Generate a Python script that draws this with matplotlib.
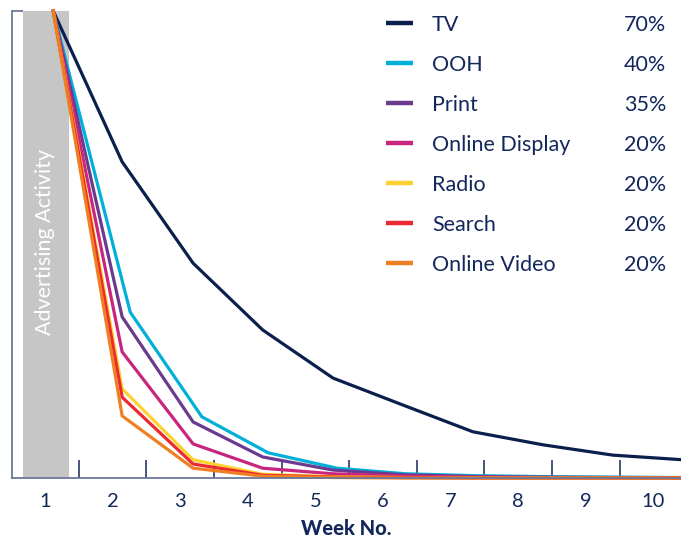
import matplotlib
matplotlib.use("Agg")
import matplotlib.pyplot as plt
from matplotlib.lines import Line2D

plt.rcParams['font.family'] = ['Lato', 'DejaVu Sans']

# Media channels, carry-over rate per week, and line colours
channels = ["TV", "OOH", "Print", "Online Display", "Radio", "Search", "Online Video"]
carryover = ["70%", "40%", "35%", "20%", "20%", "20%", "20%"]
colors = ["#0b1f4d", "#00b0d9", "#6b3a8f", "#c8267e", "#fdd230", "#ec2830", "#ef7f23"]

# Week labels on the x axis
week_labels = ["1", "2", "3", "4", "5", "6", "7", "8", "9", "10"]

# x positions (in weeks) of each curve's points
x_common = [1.12, 2.14, 3.19, 4.22, 5.26, 6.30, 7.33, 8.37, 9.40, 10.44]
x_ooh = [1.12, 2.26, 3.32, 4.30, 5.32, 6.34, 7.37, 8.40, 9.42, 10.44]

# Remaining effect (% of initial) per week
tv = [100, 67.7, 46.0, 31.7, 21.4, 15.6, 9.9, 7.1, 4.9, 3.9]
ooh = [100, 35.5, 13.1, 5.4, 2.1, 0.9, 0.5, 0.3, 0.2, 0.1]
print_ = [100, 34.5, 12.0, 4.5, 1.7, 0.7, 0.3, 0.15, 0.1, 0.05]
online_display = [100, 27.0, 7.3, 2.1, 0.9, 0.4, 0.2, 0.1, 0.05, 0.0]
radio = [100, 19.1, 3.9, 0.8, 0.3, 0.1, 0.05, 0.0, 0.0, 0.0]
search = [100, 17.3, 3.0, 0.6, 0.2, 0.1, 0.0, 0.0, 0.0, 0.0]
online_video = [100, 13.3, 2.1, 0.4, 0.1, 0.0, 0.0, 0.0, 0.0, 0.0]

series = [tv, ooh, print_, online_display, radio, search, online_video]
xs = [x_common, x_ooh, x_common, x_common, x_common, x_common, x_common]

W, H = 681, 538
fig = plt.figure(figsize=(W / 100, H / 100), dpi=100)
ax_left, ax_right, ax_top, ax_bottom = 12, 681, 11, 478
ax = fig.add_axes([ax_left / W, 1 - ax_bottom / H,
                   (ax_right - ax_left) / W, (ax_bottom - ax_top) / H])

ax.set_xlim(0.51, 10.41)
ax.set_ylim(0, 100)

spine_col = "#6b7899"
text_col = "#14275a"

# Advertising activity period
ax.axvspan(0.675, 1.355, color="#c6c6c6", zorder=0, lw=0)
ax.text(1.005, 50.5, "Advertising Activity", rotation=90, color="white",
        fontsize=15.5, ha="center", va="center", zorder=1)
ax.plot([0.51, 0.675], [100, 100], color=spine_col, lw=1.3,
        clip_on=False, solid_capstyle="butt")

for x, y, c in zip(xs, series, colors):
    ax.plot(x, y, color=c, lw=2.3, clip_on=False, zorder=3,
            solid_joinstyle="miter")

for s in ["top", "right"]:
    ax.spines[s].set_visible(False)
for s in ["left", "bottom"]:
    ax.spines[s].set_color(spine_col)
    ax.spines[s].set_linewidth(1.3)
ax.spines["bottom"].set_zorder(4)

ax.set_yticks([])
ax.set_xticks(range(1, len(week_labels) + 1))
ax.set_xticklabels(week_labels)
ax.tick_params(axis="x", which="major", length=0, pad=11,
               labelsize=14.5, labelcolor=text_col)
ax.set_xticks([k + 0.5 for k in range(1, len(week_labels))], minor=True)
ax.tick_params(axis="x", which="minor", direction="in", length=13,
               width=1.2, color="#2a3a66")

ax.set_xlabel("Week No.", fontsize=14.5, fontweight="black", color=text_col,
              labelpad=6.5)

# Legend with carry-over rates
for i, (name, rate, c) in enumerate(zip(channels, carryover, colors)):
    yy = 1 - (23 + 40 * i) / H
    fig.add_artist(Line2D([386 / W, 413 / W], [yy, yy], color=c, lw=3.2,
                          solid_capstyle="butt"))
    fig.text(432 / W, yy, name, fontsize=15.5, color=text_col,
             va="center_baseline", ha="left")
    fig.text(624 / W, yy, rate, fontsize=15.5, color=text_col,
             va="center_baseline", ha="left")

fig.savefig("out.png", dpi=100)
